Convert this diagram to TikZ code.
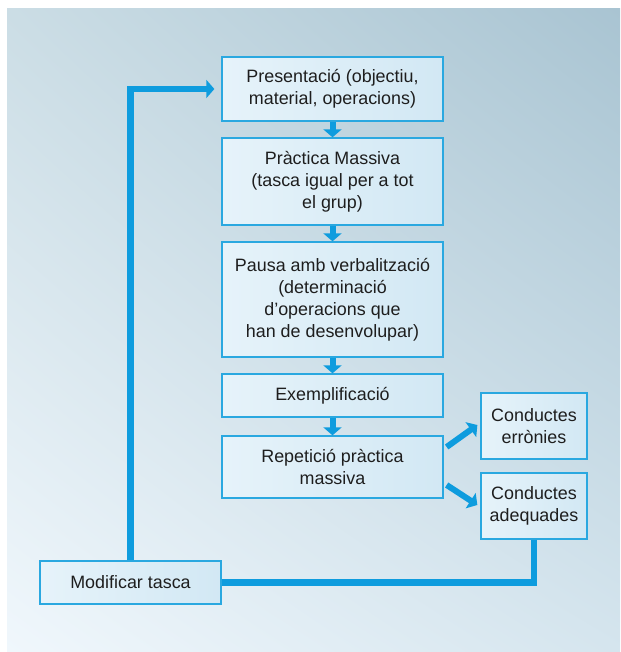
\documentclass[tikz,border=0pt]{standalone}
\usepackage{fontspec}
\setmainfont{Liberation Sans}
\usetikzlibrary{arrows.meta,shadings}
\definecolor{fletxablau}{HTML}{0E9CDE}
\definecolor{vorablau}{HTML}{2AA8E0}
\definecolor{caixaesq}{HTML}{E6F3FA}
\definecolor{caixadre}{HTML}{D2E8F4}
\definecolor{fonsul}{HTML}{CBDDE5}
\definecolor{fonsur}{HTML}{A9C4D2}
\definecolor{fonsll}{HTML}{F0F7FC}
\definecolor{fonslr}{HTML}{D5E5EE}
\definecolor{textfosc}{HTML}{1E1E1E}

\begin{document}
\begin{tikzpicture}[line join=miter,x=1pt,y=1pt,
	caixa/.style={draw=vorablau,line width=1.3pt,left color=caixaesq,right color=caixadre,align=center,inner sep=0pt,text=textfosc,font=\fontsize{17.9}{22}\selectfont},
	fletxa/.style={draw=fletxablau,line width=6pt,-{Triangle[length=8pt,width=18pt]}},
	linia/.style={draw=fletxablau,line width=6.5pt}]
		\useasboundingbox (0,0) rectangle (620,-652);
		\shade[upper left=fonsul,upper right=fonsur,lower left=fonsll,lower right=fonslr] (7,-9) rectangle (620,-652);
		% columna central
		\node[caixa,minimum width=221pt,minimum height=64pt] (pres) at (332.5,-89) {Presentació (objectiu,\\material, operacions)};
		\node[caixa,minimum width=221pt,minimum height=87pt] (prac) at (332.5,-181.5) {Pràctica Massiva\\(tasca igual per a tot\\el grup)};
		\node[caixa,minimum width=221pt,minimum height=115pt] (pausa) at (332.5,-299.5) {Pausa amb verbalització\\(determinació\\d’operacions que\\han de desenvolupar)};
		\node[caixa,minimum width=221pt,minimum height=43pt] (exem) at (332.5,-395.5) {Exemplificació};
		\node[caixa,minimum width=221pt,minimum height=62pt] (repe) at (332.5,-467) {Repetició pràctica\\massiva};
		% conductes
		\node[caixa,minimum width=106pt,minimum height=66pt] (err) at (534,-426) {Conductes\\errònies};
		\node[caixa,minimum width=106pt,minimum height=66pt] (adeq) at (534,-506) {Conductes\\adequades};
		\node[caixa,minimum width=181pt,minimum height=43pt] (modif) at (130.5,-582.5) {Modificar tasca};
		% fletxes
		\draw[fletxa] (pres.south) -- (prac.north);
		\draw[fletxa] (prac.south) -- (pausa.north);
		\draw[fletxa] (pausa.south) -- (exem.north);
		\draw[fletxa] (exem.south) -- (repe.north);
		\draw[fletxa] ([shift={(3pt,20pt)}]repe.east) -- ([shift={(-3pt,1pt)}]err.west);
		\draw[fletxa] ([shift={(3pt,-18pt)}]repe.east) -- ([shift={(-3pt,1pt)}]adeq.west);
		\draw[linia] (adeq.south) |- (modif.east);
		\draw[linia,-{Triangle[length=8pt,width=18pt]}] (modif.north) |- ([xshift=-7pt]pres.west);
\end{tikzpicture}
\end{document}
